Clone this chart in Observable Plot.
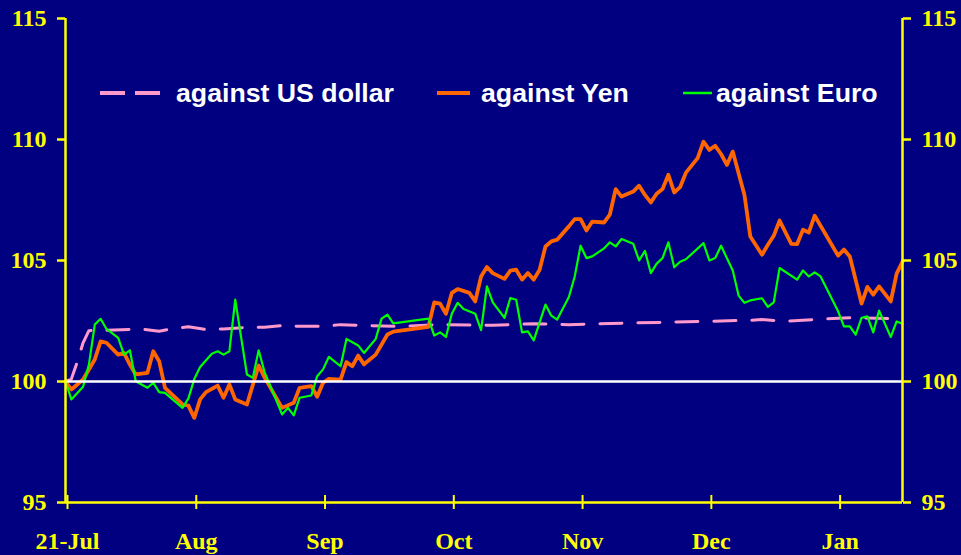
<!DOCTYPE html>
<html>
<head>
<meta charset="utf-8">
<script src="https://cdn.jsdelivr.net/npm/d3@7"></script>
<script src="https://cdn.jsdelivr.net/npm/@observablehq/plot@0.6"></script>
<style>
  html, body { margin: 0; padding: 0; background: #000080; }
  #chart { position: relative; width: 961px; height: 555px; overflow: hidden; }
</style>
</head>
<body>
<div id="chart"></div>
<script>
// ---- data (trading-day index from 21-Jul, index value) ----
const xTickDays = [0, 22, 44, 66, 88, 110, 132];
const xTickLabels = ["21-Jul", "Aug", "Sep", "Oct", "Nov", "Dec", "Jan"];
const yTicks = [95, 100, 105, 110, 115];
const seriesNames = ["against US dollar", "against Yen", "against Euro"];

const usdDays = [0,1,2,3,4,11,13,16,18,21,24,27,31,34,37,40,44,47,51,57,64,73,80,86,97,103,110,117,119,123,126,130,134,143];
const usdVals = [100.0,100.1,100.8,101.6,102.1,102.15,102.17,102.08,102.17,102.26,102.15,102.17,102.24,102.24,102.31,102.28,102.28,102.35,102.31,102.28,102.35,102.32,102.39,102.35,102.42,102.45,102.49,102.53,102.56,102.49,102.53,102.59,102.63,102.6];

const yenDays = [0,1,3,5,6,7,9,10,11,12,14,15,16,17,20,21,22,23,24,26,27,28,29,31,33,34,37,39,40,42,43,44,45,47,48,49,50,51,53,55,56,62,63,64,65,66,67,69,70,71,72,73,75,76,77,78,79,80,81,82,83,84,86,87,88,89,90,92,93,94,95,97,98,99,100,101,102,103,104,105,106,108,109,110,111,112,113,114,116,117,119,120,121,122,124,125,126,127,128,132,133,134,136,137,138,139,141,142,143];
const yenVals = [100.0,99.67,100.08,100.91,101.66,101.6,101.11,101.18,100.7,100.29,100.36,101.25,100.84,99.74,99.05,99.0,98.5,99.26,99.56,99.83,99.33,99.88,99.26,99.05,100.66,100.17,98.91,99.12,99.74,99.81,99.37,99.95,100.11,100.08,100.8,100.63,101.07,100.71,101.11,101.94,102.06,102.26,103.27,103.22,102.8,103.66,103.82,103.66,103.31,104.34,104.73,104.48,104.24,104.58,104.62,104.21,104.48,104.21,104.62,105.58,105.79,105.86,106.41,106.71,106.71,106.24,106.61,106.57,106.9,107.95,107.64,107.85,108.09,107.71,107.4,107.76,107.95,108.54,107.81,108.03,108.63,109.23,109.91,109.57,109.74,109.4,108.95,109.5,107.71,105.99,105.24,105.65,106.02,106.65,105.69,105.68,106.27,106.16,106.85,105.2,105.45,105.17,103.22,103.91,103.59,103.93,103.31,104.46,104.95];

const euroDays = [0,1,3,4,5,6,7,9,10,11,12,14,15,16,17,20,21,22,23,25,26,27,28,29,31,32,33,34,37,38,39,40,42,43,44,45,47,48,50,51,53,54,55,56,62,63,64,65,66,67,68,70,71,72,73,75,76,77,78,79,80,82,83,84,86,87,88,89,90,92,93,94,95,97,98,99,100,101,102,103,104,105,106,109,110,111,112,114,115,116,117,119,120,121,122,125,126,127,128,129,132,133,134,135,136,137,138,139,141,142,143];
const euroVals = [100.0,99.26,99.78,100.7,102.35,102.59,102.17,101.8,101.11,101.29,100.01,99.74,99.95,99.56,99.53,98.91,99.3,100.1,100.6,101.15,101.25,101.11,101.25,103.38,100.29,100.15,101.29,100.4,98.64,98.91,98.6,99.33,99.42,100.22,100.5,101.02,100.63,101.76,101.49,101.18,101.76,102.6,102.76,102.4,102.6,101.9,102.03,101.84,102.8,103.25,103.0,102.8,102.12,103.93,103.27,102.63,103.45,103.38,102.03,102.07,101.7,103.18,102.72,102.56,103.49,104.34,105.61,105.1,105.17,105.5,105.75,105.58,105.89,105.69,105.0,105.4,104.48,104.87,105.1,105.75,104.72,104.95,105.05,105.72,105.0,105.1,105.61,104.59,103.55,103.25,103.35,103.44,103.08,103.27,104.69,104.21,104.59,104.34,104.51,104.34,102.9,102.28,102.28,101.94,102.63,102.69,102.03,102.93,101.84,102.48,102.39];

const baseline = [100];

// ---- build tables ----
const usd = usdDays.map((d, i) => ({day: d, value: usdVals[i]}));
const yen = yenDays.map((d, i) => ({day: d, value: yenVals[i]}));
const euro = euroDays.map((d, i) => ({day: d, value: euroVals[i]}));

const YELLOW = "#ffff00";
const PINK = "#ff99cc";
const ORANGE = "#ff6600";
const GREEN = "#00ff00";
const tickFont = {fontFamily: "'Liberation Serif', 'Times New Roman', serif", fontWeight: "bold", fontSize: 24};

const chart = Plot.plot({
  width: 961,
  height: 555,
  marginLeft: 65,
  marginRight: 59,
  marginTop: 18,
  marginBottom: 53,
  style: {background: "#000080", color: YELLOW, overflow: "visible"},
  x: {domain: [0, 143]},
  y: {domain: [95, 115]},
  marks: [
    Plot.line(usd, {x: "day", y: "value", stroke: PINK, strokeWidth: 3, strokeDasharray: "22,16"}),
    Plot.line(yen, {x: "day", y: "value", stroke: ORANGE, strokeWidth: 3.8, strokeLinejoin: "round"}),
    Plot.line(euro, {x: "day", y: "value", stroke: GREEN, strokeWidth: 2.2, strokeLinejoin: "round"}),
    Plot.ruleY(baseline, {stroke: "#ffffff", strokeWidth: 2.5}),
    Plot.ruleX([0, 143], {stroke: YELLOW, strokeWidth: 2.5}),
    Plot.ruleY([95], {stroke: YELLOW, strokeWidth: 2.5}),
    Plot.axisY(yTicks, {anchor: "left", tickSize: 8, tickPadding: 11, strokeWidth: 2.5, label: null, ...tickFont}),
    Plot.axisY(yTicks, {anchor: "right", tickSize: 8, tickPadding: 11, strokeWidth: 2.5, label: null, ...tickFont}),
    Plot.axisX(xTickDays, {anchor: "bottom", tickSize: 14, dy: -7, tickPadding: 22, strokeWidth: 2,
      tickFormat: d => xTickLabels[xTickDays.indexOf(d)], label: null, dx: 2, ...tickFont})
  ]
});
document.getElementById("chart").appendChild(chart);

// ---- legend inside the plot area ----
const svg = d3.select(chart);
const leg = svg.append("g").attr("font-family", "'Liberation Sans', Arial, sans-serif")
  .attr("font-weight", "bold").attr("font-size", 26.7).attr("fill", "#ffffff")
  .attr("text-anchor", "start");
const items = [
  {x1: 100, x2: 162, tx: 176, color: PINK, w: 4, dash: "25,10"},
  {x1: 437, x2: 470, tx: 481, color: ORANGE, w: 4, dash: null},
  {x1: 683, x2: 712, tx: 716, color: GREEN, w: 2.5, dash: null}
];
items.forEach((it, i) => {
  const l = leg.append("line").attr("x1", it.x1).attr("x2", it.x2).attr("y1", 93).attr("y2", 93)
    .attr("stroke", it.color).attr("stroke-width", it.w);
  if (it.dash) l.attr("stroke-dasharray", it.dash);
  leg.append("text").attr("x", it.tx).attr("y", 102).text(seriesNames[i]);
});
</script>
</body>
</html>
